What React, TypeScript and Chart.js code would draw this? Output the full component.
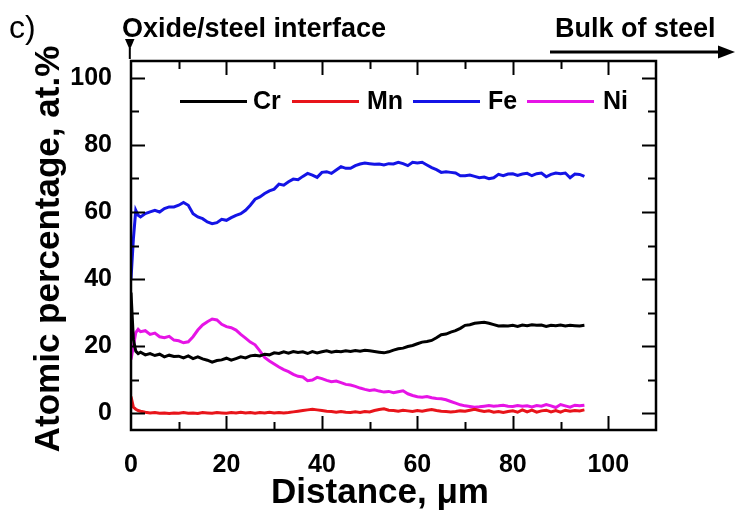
import React, { useEffect, useRef } from "react";
import { Chart, registerables } from "chart.js";

Chart.register(...registerables);

const distance = [0, 0.5, 1, 1.5, 2, 3, 4, 5, 6, 7, 8, 9, 10, 11, 12, 13, 14, 15, 16, 17, 18, 19, 20, 21, 22, 23, 24, 25, 26, 27, 28, 29, 30, 31, 32, 33, 34, 35, 36, 37, 38, 39, 40, 41, 42, 43, 44, 45, 46, 47, 48, 49, 50, 51, 52, 53, 54, 55, 56, 57, 58, 59, 60, 61, 62, 63, 64, 65, 66, 67, 68, 69, 70, 71, 72, 73, 74, 75, 76, 77, 78, 79, 80, 81, 82, 83, 84, 85, 86, 87, 88, 89, 90, 91, 92, 93, 94, 95];

const crValues = [36, 22, 18.5, 17.8, 18.2, 17.4, 17.8, 17.2, 17.6, 16.8, 17.3, 16.9, 17, 16.5, 17.1, 16.3, 16.8, 16.2, 15.8, 15.2, 15.7, 15.9, 16.4, 15.8, 16.3, 16.8, 16.5, 17.1, 17.3, 17.1, 17.6, 17.4, 18, 17.8, 18.3, 17.9, 18.4, 18.1, 18.3, 17.8, 18.4, 18, 18.3, 18.6, 18.2, 18.5, 18.3, 18.6, 18.4, 18.7, 18.5, 18.8, 18.6, 18.4, 18.2, 18, 18.3, 18.8, 19.2, 19.4, 19.9, 20.2, 20.7, 21.2, 21.4, 21.7, 22.5, 23.4, 23.6, 24.2, 24.6, 25.3, 26.2, 26.4, 26.8, 27, 27.1, 26.8, 26.4, 26, 26.1, 26, 26.2, 25.9, 26.3, 26.1, 26.4, 26.2, 26.3, 25.9, 26.2, 26.1, 26.3, 26, 26.2, 26.1, 26, 26.2];

const mnValues = [5, 1.8, 1.2, 0.8, 0.6, 0.3, 0.1, 0.2, 0, 0.1, -0.1, 0.1, 0, 0.2, 0, 0.1, -0.1, 0.2, 0.1, 0, 0.2, 0.1, 0, 0.2, 0.1, 0.3, 0.1, 0.2, 0, 0.2, 0.1, 0.3, 0.1, 0.2, 0.1, 0.2, 0.4, 0.6, 0.8, 1, 1.2, 1, 0.8, 0.6, 0.5, 0.3, 0.5, 0.3, 0.2, 0.4, 0.2, 0.5, 0.4, 0.8, 1.1, 1.3, 0.9, 0.8, 0.6, 0.9, 0.7, 0.5, 0.8, 0.6, 0.9, 1.1, 0.8, 0.6, 0.5, 0.4, 0.5, 0.7, 0.6, 0.9, 1.2, 0.8, 0.5, 0.7, 0.3, 0.5, 0.2, 0.5, 0.7, 0.3, 1, 0.4, 0.9, 0.3, 0.7, 0.9, 0.4, 0.8, 0.3, 0.9, 0.6, 0.8, 0.7, 1];

const feValues = [40, 52, 60.5, 59, 58.5, 59.5, 60, 60.5, 60, 61, 61.5, 61.5, 62, 62.8, 62, 59.5, 58.5, 58, 57, 56.5, 56.8, 57.8, 57.5, 58.3, 59, 59.5, 60.5, 62, 63.8, 64.5, 65.5, 66.3, 66.8, 68.3, 68, 69, 69.8, 69.6, 70.6, 71.5, 71, 70.3, 71.8, 72, 71.5, 72.5, 73.5, 73, 73, 73.8, 74.3, 74.6, 74.4, 74.2, 74.3, 74, 74.4, 74.3, 74.8, 74.4, 73.8, 74.8, 74.6, 74.8, 74, 73.2, 72.6, 71.8, 72, 71.8, 71.6, 70.8, 70.8, 71, 70.6, 70.2, 70.4, 69.9, 70.2, 71.2, 70.8, 71.3, 71.4, 70.9, 71.3, 71.5, 70.8, 71.4, 71.6, 70.5, 71.2, 71.6, 71.4, 71.6, 70.2, 71.3, 71.2, 70.6];

const niValues = [16, 20, 24, 25, 24.3, 24.6, 23.5, 23.9, 22.8, 22.5, 22.9, 21.8, 21.6, 21, 21.3, 22.8, 24.8, 26.3, 27.3, 28.1, 27.8, 26.5, 25.8, 25.5, 24.8, 23.5, 22.4, 21.2, 20.4, 18.6, 16.6, 15.6, 14.7, 13.8, 13, 12.4, 11.6, 11, 10.8, 9.7, 9.9, 10.7, 10.3, 9.8, 9.4, 9.6, 9.1, 8.6, 8.4, 8, 7.5, 7.1, 6.8, 7, 6.6, 6.3, 6.5, 6.1, 6.4, 6.7, 5.8, 5.3, 4.9, 4.8, 5, 4.6, 4.4, 4.3, 4, 3.5, 3, 2.5, 2.2, 2, 1.8, 1.9, 2.1, 2.3, 2.1, 2.2, 2.4, 2.1, 2, 2.3, 2.1, 2.2, 1.9, 2.3, 2.1, 2.6, 2.2, 1.7, 2.6, 2.2, 1.8, 2.4, 2.2, 2.4];

const seriesNames = ["Cr", "Mn", "Fe", "Ni"];
const seriesColors = ["#000000", "#e8141a", "#1414e6", "#e614e6"];
const seriesValues = [crValues, mnValues, feValues, niValues];

const xTickValues = [0, 20, 40, 60, 80, 100];
const yTickValues = [0, 20, 40, 60, 80, 100];

const FONT = "'Liberation Sans', Arial, sans-serif";

const decorPlugin = {
  id: "decor",
  afterDraw(chart: any) {
    const ctx = chart.ctx;
    const { left, right, top, bottom } = chart.chartArea;
    const xs = chart.scales.x;
    const ys = chart.scales.y;
    ctx.save();
    // frame
    ctx.strokeStyle = "#000";
    ctx.lineWidth = 2.5;
    ctx.strokeRect(left, top, right - left, bottom - top);
    // ticks inward
    ctx.lineWidth = 2;
    for (let v = 0; v <= 110; v += 10) {
      const major = v % 20 === 0;
      const len = major ? 14 : 8;
      const px = Math.round(xs.getPixelForValue(v)) + 0.5;
      if (px <= left + 2 || px >= right - 2) continue;
      ctx.beginPath();
      ctx.moveTo(px, bottom);
      ctx.lineTo(px, bottom - len);
      ctx.moveTo(px, top);
      ctx.lineTo(px, top + len);
      ctx.stroke();
    }
    for (let v = 0; v <= 100; v += 10) {
      const major = v % 20 === 0;
      const len = major ? 14 : 8;
      const py = Math.round(ys.getPixelForValue(v)) + 0.5;
      ctx.beginPath();
      ctx.moveTo(left, py);
      ctx.lineTo(left + len, py);
      ctx.moveTo(right, py);
      ctx.lineTo(right - len, py);
      ctx.stroke();
    }
    // legend
    const legendY = 101.5;
    const lineStarts = [180, 292, 413, 527];
    const textStarts = [253, 367, 488, 603];
    ctx.font = `bold 25px ${FONT}`;
    ctx.textBaseline = "middle";
    ctx.textAlign = "left";
    for (let i = 0; i < seriesNames.length; i++) {
      ctx.strokeStyle = seriesColors[i];
      ctx.lineWidth = 3;
      ctx.beginPath();
      ctx.moveTo(lineStarts[i], legendY);
      ctx.lineTo(lineStarts[i] + 67, legendY);
      ctx.stroke();
      ctx.fillStyle = "#000";
      ctx.fillText(seriesNames[i], textStarts[i], legendY + 1);
    }
    // axis titles
    ctx.fillStyle = "#000";
    ctx.font = `bold 35px ${FONT}`;
    ctx.textAlign = "center";
    ctx.textBaseline = "alphabetic";
    ctx.fillText("Distance, \u03bcm", 380, 503);
    ctx.save();
    ctx.translate(59, 249);
    ctx.rotate(-Math.PI / 2);
    ctx.fillText("Atomic percentage, at.%", 0, 0);
    ctx.restore();
    // annotations
    ctx.textAlign = "left";
    ctx.font = `32px ${FONT}`;
    ctx.fillText("c)", 9, 38);
    ctx.font = `bold 27px ${FONT}`;
    ctx.fillText("Oxide/steel interface", 122, 37);
    ctx.fillText("Bulk of steel", 555, 37);
    // down arrow
    ctx.fillStyle = "#000";
    ctx.beginPath();
    ctx.moveTo(125, 39);
    ctx.lineTo(134.5, 39);
    ctx.lineTo(129.8, 50);
    ctx.closePath();
    ctx.fill();
    ctx.strokeStyle = "#000";
    ctx.lineWidth = 2;
    ctx.beginPath();
    ctx.moveTo(129.8, 48);
    ctx.lineTo(129.8, 59);
    ctx.stroke();
    // right arrow
    ctx.lineWidth = 3;
    ctx.beginPath();
    ctx.moveTo(550, 52);
    ctx.lineTo(722, 52);
    ctx.stroke();
    ctx.beginPath();
    ctx.moveTo(718, 45.5);
    ctx.lineTo(735, 52);
    ctx.lineTo(718, 58.5);
    ctx.closePath();
    ctx.fill();
    ctx.restore();
  },
};

export default function App() {
  const canvasRef = useRef<HTMLCanvasElement | null>(null);

  useEffect(() => {
    const canvas = canvasRef.current;
    if (!canvas) return;
    const chart = new Chart(canvas, {
      type: "line",
      data: {
        datasets: seriesNames.map((name, i) => ({
          label: name,
          data: distance.map((d, j) => ({ x: d, y: seriesValues[i][j] })),
          borderColor: seriesColors[i],
          backgroundColor: seriesColors[i],
          borderWidth: 3,
          pointRadius: 0,
          tension: 0,
          fill: false,
        })),
      },
      options: {
        responsive: false,
        animation: false,
        devicePixelRatio: 1,
        layout: { padding: { left: 0, top: 61, right: 79, bottom: 0 } },
        plugins: {
          legend: { display: false },
          tooltip: { enabled: false },
          title: { display: false },
        },
        scales: {
          x: {
            type: "linear",
            min: 0,
            max: 110,
            afterFit: (scale: any) => {
              scale.height = 84;
            },
            afterBuildTicks: (scale: any) => {
              scale.ticks = xTickValues.map((v) => ({ value: v }));
            },
            grid: { display: false, drawTicks: false },
            border: { display: false },
            ticks: {
              padding: 20,
              color: "#000",
              maxRotation: 0,
              font: { family: FONT, size: 25, weight: "bold" },
            },
          },
          y: {
            type: "linear",
            min: -5,
            max: 105,
            afterFit: (scale: any) => {
              scale.width = 131;
            },
            afterBuildTicks: (scale: any) => {
              scale.ticks = yTickValues.map((v) => ({ value: v }));
            },
            grid: { display: false, drawTicks: false },
            border: { display: false },
            ticks: {
              padding: 19,
              color: "#000",
              font: { family: FONT, size: 25, weight: "bold" },
            },
          },
        },
      },
      plugins: [decorPlugin],
    });
    return () => chart.destroy();
  }, []);

  return (
    <div style={{ position: "absolute", left: 0, top: 0, width: 735, height: 514, background: "#fff" }}>
      <canvas ref={canvasRef} width={735} height={514} style={{ display: "block", width: 735, height: 514 }} />
    </div>
  );
}
